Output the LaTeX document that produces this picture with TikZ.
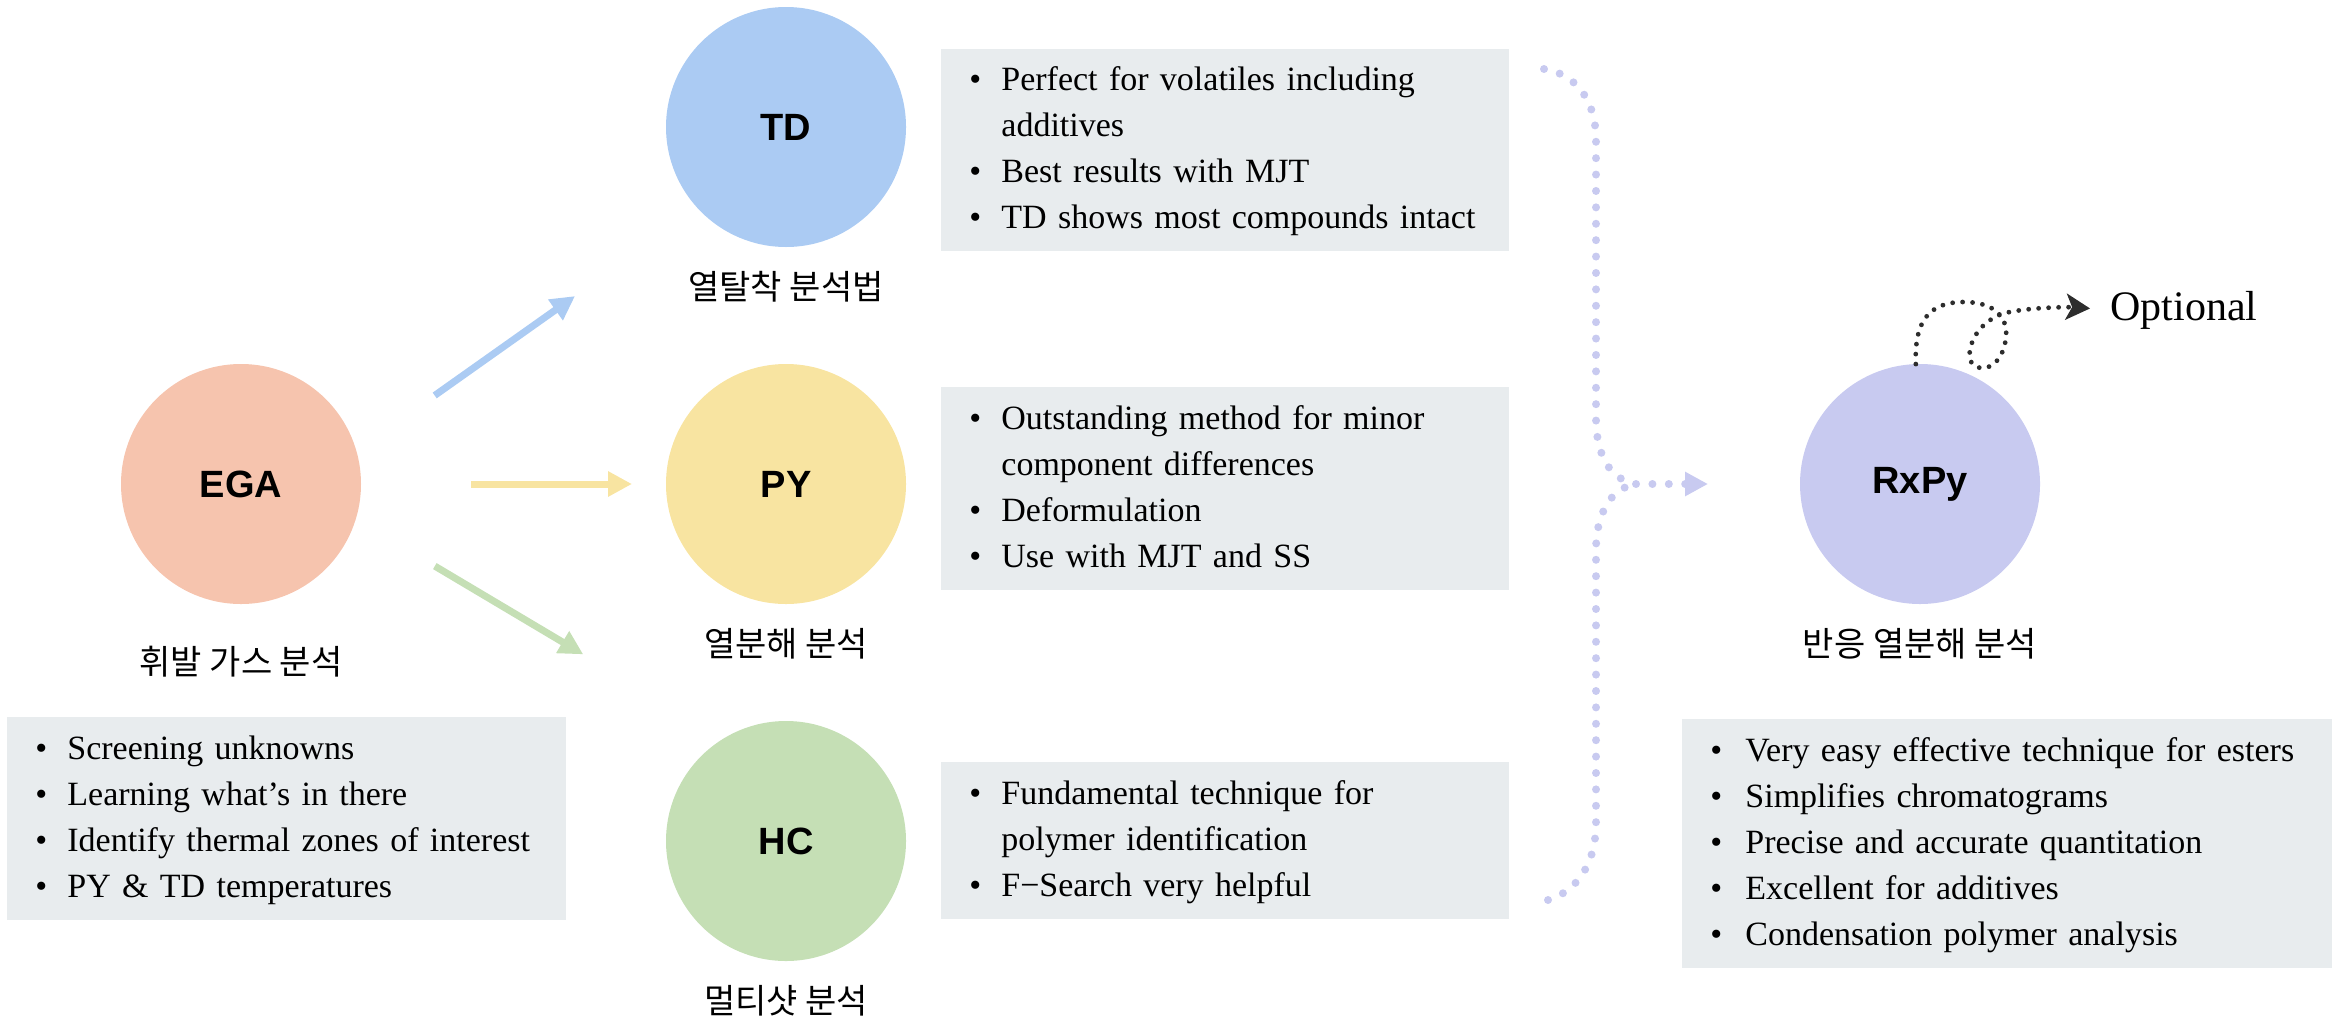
\documentclass[tikz,border=0pt]{standalone}
\usepackage{fontspec}
\setmainfont{Liberation Serif}
\setsansfont{Liberation Sans}
\newfontfamily\krfont{Noto Sans CJK KR}
\usetikzlibrary{positioning,arrows.meta}
\setlength{\parindent}{0pt}
\definecolor{egafill}{RGB}{246,196,174}
\definecolor{tdfill}{RGB}{171,203,243}
\definecolor{pyfill}{RGB}{248,228,161}
\definecolor{hcfill}{RGB}{197,223,181}
\definecolor{rxfill}{RGB}{200,202,240}
\definecolor{boxgray}{RGB}{232,236,238}
\definecolor{loopgray}{RGB}{45,45,45}
\begin{document}
\begin{tikzpicture}[x=0.5pt,y=-0.5pt,
    disc/.style={circle,minimum size=120pt,inner sep=0pt,outer sep=0pt,font=\sffamily\bfseries\fontsize{19}{22}\selectfont},
    krlabel/.style={inner sep=0pt,font=\krfont\fontsize{17}{20}\selectfont},
    infobox/.style={fill=boxgray,anchor=north west,inner xsep=14pt,inner ysep=0pt,align=left,font=\fontsize{17}{23}\selectfont},
    feed/.style={line width=3.5pt,-{Triangle[length=12pt,width=12pt]}},
    dotline/.style={draw=rxfill,line width=4pt,line cap=round,dash pattern=on 0pt off 8.2pt}]
    \path[use as bounding box] (0,0) rectangle (2343,1023);

    \node[disc,fill=egafill] (EGA) at (241,484) {EGA};
    \node[disc,fill=tdfill] (TD) at (786,127) {TD};
    \node[disc,fill=pyfill] (PY) at (786,484) {PY};
    \node[disc,fill=hcfill] (HC) at (786,841) {HC};
    \node[disc,fill=rxfill] (RxPy) at (1920,484) {RxPy};

    \node[krlabel,below=21pt of EGA] (egalbl) {휘발 가스 분석};
    \node[krlabel,below=12pt of TD] (tdlbl) {열탈착 분석법};
    \node[krlabel,below=12pt of PY] (pylbl) {열분해 분석};
    \node[krlabel,below=12pt of HC] (hclbl) {멀티샷 분석};
    \node[krlabel,below=12pt of RxPy] (rxlbl) {반응 열분해 분석};

    \node[infobox,text width=251.5pt,minimum height=101.5pt] (egabox) at (7,717) {%
        \begin{tabular}{@{}p{16pt}@{}l@{}}
        \textbullet & Screening unknowns\\
        \textbullet & Learning what’s in there\\
        \textbullet & Identify thermal zones of interest\\
        \textbullet & PY \& TD temperatures
        \end{tabular}};
    \node[infobox,text width=256pt,minimum height=101pt] (tdbox) at (941,49) {%
        \begin{tabular}{@{}p{16pt}@{}l@{}}
        \textbullet & Perfect for volatiles including\\
        & additives\\
        \textbullet & Best results with MJT\\
        \textbullet & TD shows most compounds intact
        \end{tabular}};
    \node[infobox,text width=256pt,minimum height=101.5pt] (pybox) at (941,387) {%
        \begin{tabular}{@{}p{16pt}@{}l@{}}
        \textbullet & Outstanding method for minor\\
        & component differences\\
        \textbullet & Deformulation\\
        \textbullet & Use with MJT and SS
        \end{tabular}};
    \node[infobox,text width=256pt,minimum height=78.5pt] (hcbox) at (941,762) {%
        \begin{tabular}{@{}p{16pt}@{}l@{}}
        \textbullet & Fundamental technique for\\
        & polymer identification\\
        \textbullet & F−Search very helpful
        \end{tabular}};
    \node[infobox,text width=297pt,minimum height=124.5pt] (rxbox) at (1682,719) {%
        \begin{tabular}{@{}p{17.5pt}@{}l@{}}
        \textbullet & Very easy effective technique for esters\\
        \textbullet & Simplifies chromatograms\\
        \textbullet & Precise and accurate quantitation\\
        \textbullet & Excellent for additives\\
        \textbullet & Condensation polymer analysis
        \end{tabular}};

    \draw[feed,tdfill,shorten <=48pt,shorten >=75.5pt] (EGA.16) -- (TD.223);
    \draw[feed,pyfill,shorten <=55pt,shorten >=17pt] (EGA.east) -- (PY.west);
    \draw[feed,hcfill,shorten <=46pt,shorten >=82pt] (EGA.343) -- (HC.121);

    \draw[dotline] (1544,69) .. controls (1580,75) and (1596,105) .. (1596,140)
        -- (1596,418) .. controls (1596,455) and (1610,480) .. (1636,484);
    \draw[dotline] (1548,900) .. controls (1580,890) and (1596,860) .. (1596,823)
        -- (1596,550) .. controls (1596,515) and (1610,488) .. (1636,484);
    \coordinate (join) at (1636,484);
    \draw[dotline,shorten >=46pt,-{Triangle[length=11.5pt,width=11.5pt]}] (join) -- (RxPy.west);

    \node[anchor=base west,inner sep=0pt,font=\fontsize{21}{25}\selectfont] (opt) at (2110,320) {Optional};
    \draw[loopgray,line width=2.4pt,line cap=round,dash pattern=on 0pt off 5pt,
          -{Stealth[length=12pt,width=13pt,inset=3pt]},shorten >=10pt]
        (RxPy.92) .. controls (1914,320) and (1930,302) .. (1964,302)
        .. controls (1995,302) and (2008,318) .. (2006,337)
        .. controls (2004,358) and (1992,369) .. (1981,368)
        .. controls (1972,367) and (1968,360) .. (1970,350)
        .. controls (1973,332) and (1988,318) .. (2005,313)
        .. controls (2030,307) and (2070,307) .. (opt.west);
\end{tikzpicture}
\end{document}
